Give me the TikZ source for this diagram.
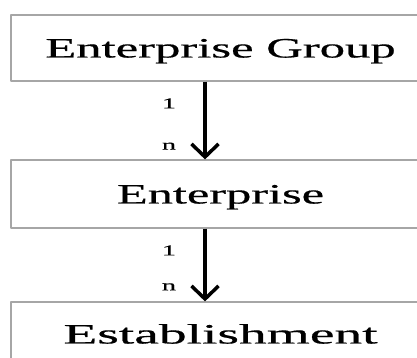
\documentclass[tikz,border=0pt]{standalone}
\usepackage{fontspec}
\setmainfont{Liberation Serif}
\newfontfamily\heavy{Liberation Serif}[FakeBold=0.45]
\usetikzlibrary{arrows.meta}
\newcommand{\stretched}[2]{\scalebox{#1}[1]{#2}}

\begin{document}
\begin{tikzpicture}[x = 1pt, y = 1pt, line join = round,
		level/.style = {draw = gray!70, line width = 1.2pt, minimum width = 419pt, inner sep = 0pt,
			text height = 19pt, text depth = 0pt, font = \heavy\fontsize{28}{28}\selectfont},
		link/.style = {line width = 3.5pt, -{Straight Barb[length = 13pt, width = 27pt]}},
		card/.style = {inner sep = 0pt, font = \heavy\fontsize{15}{15}\selectfont}]
			\useasboundingbox (0,0) rectangle (417,358);
			\pgfmathsetmacro\dx{-15.5};
			\node[level, minimum height = 66pt] (group) at (220.5,310) {\stretched{1.81}{Enterprise Group}};
			\node[level, minimum height = 68pt] (firm) at (220.5,164) {\stretched{1.8}{Enterprise}};
			\node[level, minimum height = 64pt] (plant) at (220.5,24) {\stretched{1.98}{Establishment}};
			\draw[link] ([xshift = \dx pt]group.south) -- node[card, pos = .28, xshift = -36pt]{\stretched{1.9}{1}}
				node[card, pos = .83, xshift = -36pt]{\stretched{1.9}{n}} ([xshift = \dx pt]firm.north);
			\draw[link] ([xshift = \dx pt]firm.south) -- node[card, pos = .3, xshift = -36pt]{\stretched{1.9}{1}}
				node[card, pos = .8, xshift = -36pt]{\stretched{1.9}{n}} ([xshift = \dx pt]plant.north);
		\end{tikzpicture}
\end{document}
